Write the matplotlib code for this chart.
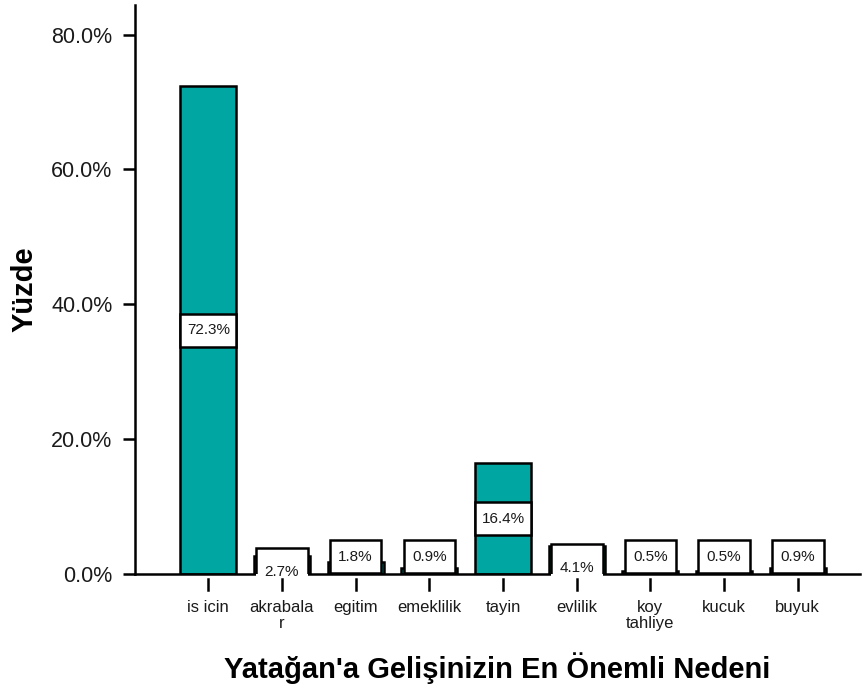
import matplotlib
matplotlib.use("Agg")
import matplotlib.pyplot as plt
import matplotlib.transforms as mtransforms
import numpy as np

plt.rcParams["font.family"] = ["Liberation Sans", "DejaVu Sans"]

# Data
categories = ["is icin", "akrabala\nr", "egitim", "emeklilik", "tayin",
              "evlilik", "koy\ntahliye", "kucuk", "buyuk"]
percent = [72.3, 2.7, 1.8, 0.9, 16.4, 4.1, 0.5, 0.5, 0.9]
y_ticks = [0, 20, 40, 60, 80]
y_tick_labels = ["0.0%", "20.0%", "40.0%", "60.0%", "80.0%"]

BAR_COLOR = "#00a6a2"
TXT = "#1a1a1a"
x = np.arange(len(categories))

fig = plt.figure(figsize=(8.63, 6.95), dpi=100)
ax = fig.add_axes([0.156, 0.174, 0.841, 0.819])

ax.bar(x, percent, width=0.76, color=BAR_COLOR, edgecolor="black",
       linewidth=1.8, zorder=2)

# value labels in white boxes (SPSS style); tiny bars get label lifted to the axis
box_h = 4.9
for xi, v in zip(x, percent):
    if v < 2:
        yc = box_h / 2 + 0.1
        ty = yc
        w = 0.70
    elif v < 10:
        # box runs below the axis: white fill covers the axis, outline is clipped
        yc = v / 2
        ty = yc - 1.1
        w = 0.70
    else:
        yc = v / 2
        ty = yc
        w = 0.76
    ax.bar(xi, box_h, bottom=yc - box_h / 2, width=w, color="white",
           linewidth=0, zorder=3, clip_on=False)
    ax.bar(xi, box_h, bottom=yc - box_h / 2, width=w, fill=False,
           edgecolor="black", linewidth=1.8, zorder=3.2)
    ax.text(xi, ty, f"{v:.1f}%", ha="center", va="center", fontsize=11,
            color=TXT, zorder=4, clip_on=False)

ax.set_xlim(-1.0, 8.85)
ax.set_ylim(0, 84.4)

ax.set_yticks(y_ticks)
ax.set_yticklabels(y_tick_labels, fontsize=15.5, color=TXT)
ax.tick_params(axis="y", direction="out", length=9, width=1.8, pad=7)

ax.set_xticks(x)
ax.set_xticklabels(categories, fontsize=12, color=TXT, linespacing=1.05)
ax.tick_params(axis="x", length=0, pad=19)

# x ticks drawn below the axis with a small gap
trans = mtransforms.blended_transform_factory(ax.transData, ax.transAxes)
for xi in x:
    ax.plot([xi, xi], [-0.008, -0.028], color="black", lw=1.8,
            transform=trans, clip_on=False, zorder=5)

for side in ["top", "right"]:
    ax.spines[side].set_visible(False)
for side in ["left", "bottom"]:
    ax.spines[side].set_linewidth(1.8)

ax.set_ylabel("Yüzde", fontsize=21, fontweight="bold", labelpad=9)
ax.set_xlabel("Yatağan'a Gelişinizin En Önemli Nedeni", fontsize=21,
              fontweight="bold", labelpad=15)

fig.savefig("out.png", dpi=100)
